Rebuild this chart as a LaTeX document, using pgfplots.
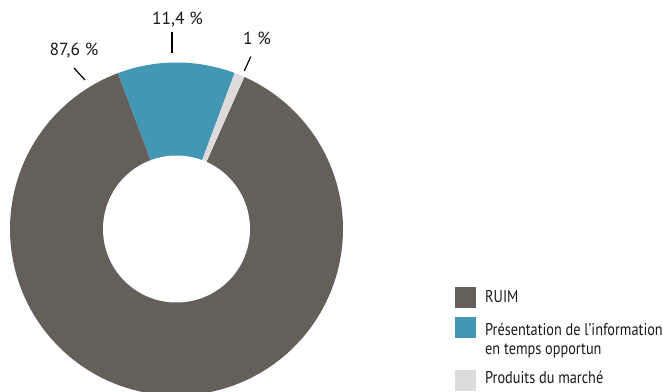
\documentclass[border=0pt]{standalone}
\usepackage{fontspec}
\setmainfont{PT Sans}
\newfontfamily\legfont[FakeStretch=0.84]{PT Sans}
\usepackage{pgfplots}
\usepackage{pgfplotstable}
\pgfplotsset{compat=1.18}
\definecolor{cRuim}{HTML}{655F5A}
\definecolor{cBlue}{HTML}{4396B4}
\definecolor{cLight}{HTML}{DDDCDB}
\pgfplotstableread{
label value
RUIM 87.6
Info 11.4
Produits 1.0
}\shares
\begin{document}%
\begin{tikzpicture}[font=\fontsize{17.5bp}{20bp}\selectfont]
\pgfplotstablegetelem{0}{value}\of\shares \let\vA\pgfplotsretval
\pgfplotstablegetelem{1}{value}\of\shares \let\vB\pgfplotsretval
\pgfplotstablegetelem{2}{value}\of\shares \let\vC\pgfplotsretval
\pgfmathsetmacro{\sB}{110.6}
\pgfmathsetmacro{\eB}{\sB-3.6*\vB}
\pgfmathsetmacro{\eC}{\eB-3.6*\vC}
\pgfmathsetmacro{\eA}{\eC-3.6*\vA}
\def\cx{176.5}\def\cy{229}\def\R{166.5}\def\r{73.5}
\useasboundingbox (0,0) rectangle (663bp,392bp);
\begin{axis}[width=663bp,height=392bp,scale only axis,hide axis,
  at={(0,0)},anchor=south west,
  xmin=0,xmax=663,ymin=0,ymax=392,y dir=reverse]
\addplot[fill=cRuim,draw=none,domain=\eA:\eC,samples=240,variable=\t]
  ({\cx+\R*cos(\t)},{\cy-\R*sin(\t)}) -- (axis cs:\cx,\cy) -- cycle;
\addplot[fill=cBlue,draw=none,domain=\eB:\sB,samples=60,variable=\t]
  ({\cx+\R*cos(\t)},{\cy-\R*sin(\t)}) -- (axis cs:\cx,\cy) -- cycle;
\addplot[fill=cLight,draw=none,domain=\eC:\eB,samples=10,variable=\t]
  ({\cx+\R*cos(\t)},{\cy-\R*sin(\t)}) -- (axis cs:\cx,\cy) -- cycle;
\addplot[fill=white,draw=none,domain=0:360,samples=180,variable=\t]
  ({\cx+\r*cos(\t)},{\cy-\r*sin(\t)}) -- cycle;
% value labels
\node[anchor=base,text=black!90] at (axis cs:74,55) {87,6 \%};
\node[anchor=base,text=black!90] at (axis cs:177.5,25) {11,4 \%};
\node[anchor=base,text=black!90] at (axis cs:257,44) {1 \%};
\draw[line width=1.2bp] (axis cs:74,68) -- (axis cs:85,80);
\draw[line width=1.2bp] (axis cs:172,32) -- (axis cs:172,53);
\draw[line width=1.2bp] (axis cs:250.7,56.7) -- (axis cs:244.3,71);
% legend
\fill[cRuim] (axis cs:455,287) rectangle (axis cs:476,308);
\fill[cBlue] (axis cs:455,317) rectangle (axis cs:476,338);
\fill[cLight] (axis cs:455,370) rectangle (axis cs:476,391);
\begin{scope}[every node/.style={anchor=base west,inner sep=0pt,text=black!90,font=\legfont\fontsize{17bp}{20bp}\selectfont}]
\node at (axis cs:485,302) {RUIM};
\node at (axis cs:485,335) {Présentation de l’information};
\node at (axis cs:485,354.3) {en temps opportun};
\node at (axis cs:485,383.3) {Produits du marché};
\end{scope}
\end{axis}
\end{tikzpicture}%
\end{document}
